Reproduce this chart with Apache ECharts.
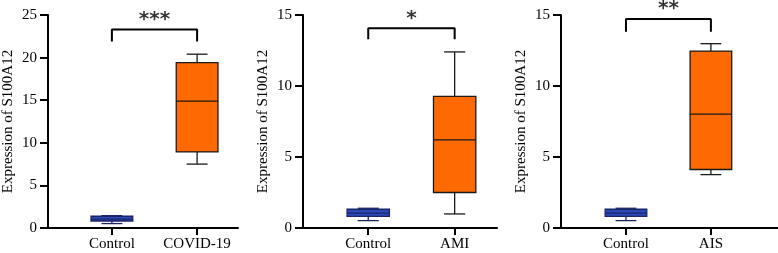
<!DOCTYPE html>
<html>
<head>
<meta charset="utf-8">
<script src="https://cdn.jsdelivr.net/npm/echarts@6/dist/echarts.min.js"></script>
<style>
  html, body { margin: 0; padding: 0; background: #fff; }
  #chart { width: 778px; height: 253px; }
</style>
</head>
<body>
<div id="chart"></div>
<script>
// box stats per group: [min, Q1, median, Q3, max]
const groups1 = ['Control', 'COVID-19'];
const stats1 = [[0.52, 0.82, 1.05, 1.38, 1.45], [7.5, 8.93, 14.9, 19.4, 20.4]];
const groups2 = ['Control', 'AMI'];
const stats2 = [[0.52, 0.82, 1.05, 1.32, 1.39], [0.99, 2.5, 6.2, 9.27, 12.4]];
const groups3 = ['Control', 'AIS'];
const stats3 = [[0.52, 0.82, 1.05, 1.32, 1.39], [3.76, 4.12, 8.02, 12.46, 12.98]];

// significance bracket: [leg bottom, bar height]
const bracket1 = [21.9, 23.3];
const bracket2 = [13.3, 14.06];
const bracket3 = [13.82, 14.72];
const stars = ['***', '*', '**'];

const yMax = [25, 15, 15];
const yTicks = 5;

const fills = ['#2c47b8', '#ff6a00'];
const strokes = ['#1b2466', '#1a1a1a'];

const serif = 'Liberation Serif';

const panels = [
  {left: 48, width: 190, min: 0.25, max: 2.48, groups: groups1, stats: stats1, br: bracket1},
  {left: 303, width: 194, min: 0.245, max: 2.49, groups: groups2, stats: stats2, br: bracket2},
  {left: 561, width: 217, min: 0.235, max: 2.79, groups: groups3, stats: stats3, br: bracket3}
];

function renderBox(params, api) {
  const x = api.value(0);
  const pMin = api.coord([x, api.value(1)]);
  const pQ1 = api.coord([x, api.value(2)]);
  const pMed = api.coord([x, api.value(3)]);
  const pQ3 = api.coord([x, api.value(4)]);
  const pMax = api.coord([x, api.value(5)]);
  const w = api.size([1, 0])[0] * 0.49;
  const cap = w * 0.25;
  const cx = pMed[0];
  const i = params.dataIndex;
  const line = {stroke: strokes[i], lineWidth: 1.3};
  return {
    type: 'group',
    children: [
      {type: 'line', shape: {x1: cx, y1: pQ3[1], x2: cx, y2: pMax[1]}, style: line},
      {type: 'line', shape: {x1: cx, y1: pQ1[1], x2: cx, y2: pMin[1]}, style: line},
      {type: 'line', shape: {x1: cx - cap, y1: pMax[1], x2: cx + cap, y2: pMax[1]}, style: line},
      {type: 'line', shape: {x1: cx - cap, y1: pMin[1], x2: cx + cap, y2: pMin[1]}, style: line},
      {type: 'rect', shape: {x: cx - w / 2, y: pQ3[1], width: w, height: pQ1[1] - pQ3[1]},
        style: {fill: fills[i], stroke: strokes[i], lineWidth: 1.3}},
      {type: 'line', shape: {x1: cx - w / 2, y1: pMed[1], x2: cx + w / 2, y2: pMed[1]}, style: line}
    ]
  };
}

const grid = [], xAxis = [], yAxis = [], series = [];

panels.forEach(function (p, k) {
  grid.push({left: p.left, top: 15, width: p.width, height: 213});
  xAxis.push({
    type: 'value', gridIndex: k, min: p.min, max: p.max,
    splitLine: {show: false},
    axisLine: {lineStyle: {color: '#000', width: 2}},
    axisTick: {customValues: [1, 2], length: 7, lineStyle: {color: '#000', width: 2}},
    axisLabel: {
      customValues: [1, 2], margin: 9, color: '#000', fontFamily: serif, fontSize: 15,
      formatter: function (v) { return p.groups[Math.round(v) - 1]; }
    }
  });
  yAxis.push({
    type: 'value', gridIndex: k, min: 0, max: yMax[k], interval: yTicks,
    name: 'Expression of S100A12', nameLocation: 'middle', nameGap: 32,
    nameTextStyle: {color: '#000', fontFamily: serif, fontSize: 15},
    splitLine: {show: false},
    axisLine: {show: true, lineStyle: {color: '#000', width: 2}},
    axisTick: {show: true, length: 8, lineStyle: {color: '#000', width: 2}},
    axisLabel: {color: '#000', fontFamily: serif, fontSize: 15, margin: 11}
  });
  series.push({
    type: 'custom', xAxisIndex: k, yAxisIndex: k,
    renderItem: renderBox,
    data: p.stats.map(function (s, i) { return [i + 1].concat(s); })
  });
  series.push({
    type: 'line', xAxisIndex: k, yAxisIndex: k, symbol: 'none', silent: true,
    lineStyle: {color: '#000', width: 2},
    data: [[1, p.br[0]], [1, p.br[1]], [2, p.br[1]], [2, p.br[0]]]
  });
  series.push({
    type: 'scatter', xAxisIndex: k, yAxisIndex: k, symbolSize: 0, silent: true,
    label: {
      show: true, position: 'inside', offset: [0, -10], formatter: stars[k],
      color: '#000', fontFamily: 'DejaVu Sans', fontWeight: 'bold', fontSize: 20
    },
    data: [[1.5, p.br[1]]]
  });
});

const chart = echarts.init(document.getElementById('chart'));
chart.setOption({
  animation: false,
  grid: grid,
  xAxis: xAxis,
  yAxis: yAxis,
  series: series
});
</script>
</body>
</html>
